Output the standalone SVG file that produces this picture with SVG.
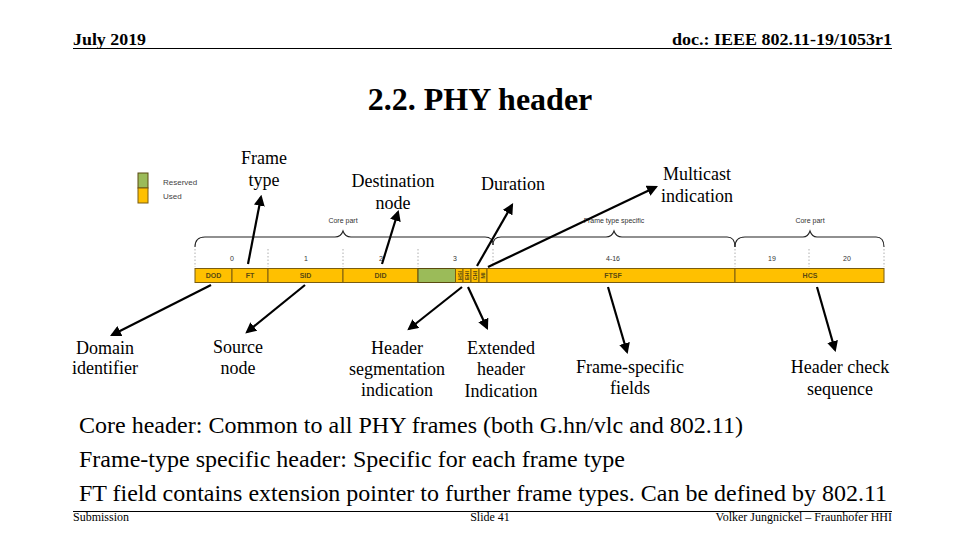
<svg xmlns="http://www.w3.org/2000/svg" width="960" height="540" viewBox="0 0 960 540">
<defs>
<style>
.hdr{font-family:"Liberation Serif",serif;font-weight:bold;font-size:16px;fill:#000}
.ft{font-family:"Liberation Serif",serif;font-size:12px;fill:#000}
.lbl{font-family:"Liberation Serif",serif;font-size:18px;fill:#000;text-anchor:middle}
.body{font-family:"Liberation Serif",serif;font-size:23px;fill:#000}
.tiny{font-family:"Liberation Sans",sans-serif;font-size:7px;fill:#333;text-anchor:middle}
.cell{font-family:"Liberation Sans",sans-serif;font-size:7px;font-weight:bold;fill:#5a4a10;text-anchor:middle}
.y{fill:#FFC000;stroke:#7a5c10;stroke-width:1}
.g{fill:#9BBB59;stroke:#5a4a10;stroke-width:1}
.dot{stroke:#999;stroke-width:0.8;stroke-dasharray:1.5,2}
.brace{fill:none;stroke:#222;stroke-width:1.1}
.arr{stroke:#000;stroke-width:2.2;fill:none;marker-end:url(#ah)}
</style>
<marker id="ah" viewBox="0 0 10 10" refX="8" refY="5" markerWidth="5" markerHeight="5" orient="auto" markerUnits="strokeWidth">
<path d="M0,0 L10,5 L0,10 Z" fill="#000"/>
</marker>
</defs>
<rect width="960" height="540" fill="#fff"/>

<g id="header">
<text class="hdr" x="73" y="45" textLength="73" lengthAdjust="spacingAndGlyphs">July 2019</text>
<text class="hdr" x="672" y="45" textLength="220" lengthAdjust="spacingAndGlyphs">doc.: IEEE 802.11-19/1053r1</text>
<line x1="73" y1="48.5" x2="892" y2="48.5" stroke="#000" stroke-width="1.2"/>
</g>

<text id="title" x="480" y="110" text-anchor="middle" style="font-family:'Liberation Serif',serif;font-size:32px;font-weight:bold">2.2. PHY header</text>

<g id="legend">
<rect x="138" y="173" width="10" height="15" class="g"/>
<rect x="138" y="188" width="10" height="15" class="y"/>
<text x="163" y="185" style="font-family:'Liberation Sans',sans-serif;font-size:8px;fill:#444">Reserved</text>
<text x="163" y="199" style="font-family:'Liberation Sans',sans-serif;font-size:8px;fill:#444">Used</text>
</g>

<g id="braces">
<path class="brace" d="M195,247 Q195,237 205,237 L335,237 Q341,237 343,231 Q345,237 351,237 L485,237 Q493,237 493,245"/>
<text class="tiny" x="343" y="223">Core part</text>
<path class="brace" d="M493,245 Q493,237 501,237 L606,237 Q612,237 614,231 Q616,237 622,237 L727,237 Q735,237 735,247"/>
<text class="tiny" x="614" y="223">Frame type specific</text>
<path class="brace" d="M735,247 Q735,237 745,237 L803,237 Q808,237 810,231 Q812,237 817,237 L876,237 Q884,237 884,247"/>
<text class="tiny" x="810" y="223">Core part</text>
</g>

<g id="bytegrid">
<line class="dot" x1="195" y1="249" x2="195" y2="267"/>
<line class="dot" x1="268" y1="249" x2="268" y2="267"/>
<line class="dot" x1="343" y1="249" x2="343" y2="267"/>
<line class="dot" x1="418" y1="249" x2="418" y2="267"/>
<line class="dot" x1="493" y1="249" x2="493" y2="267"/>
<line class="dot" x1="735" y1="249" x2="735" y2="267"/>
<line class="dot" x1="809" y1="249" x2="809" y2="267"/>
<line class="dot" x1="884" y1="249" x2="884" y2="267"/>
<text class="tiny" x="232" y="261">0</text>
<text class="tiny" x="306" y="261">1</text>
<text class="tiny" x="381" y="261">2</text>
<text class="tiny" x="455" y="261">3</text>
<text class="tiny" x="613" y="261">4-16</text>
<text class="tiny" x="772" y="261">19</text>
<text class="tiny" x="847" y="261">20</text>
</g>

<g id="bar">
<rect x="195" y="268.5" width="37" height="14" class="y"/>
<text class="cell" x="213.5" y="278">DOD</text>
<rect x="232" y="268.5" width="36" height="14" class="y"/>
<text class="cell" x="250" y="278">FT</text>
<rect x="268" y="268.5" width="75" height="14" class="y"/>
<text class="cell" x="305.5" y="278">SID</text>
<rect x="343" y="268.5" width="75" height="14" class="y"/>
<text class="cell" x="380.5" y="278">DID</text>
<rect x="418" y="268.5" width="37.5" height="14" class="g"/>
<rect x="455.5" y="268.5" width="7.5" height="14" class="y"/>
<text class="cell" transform="translate(461.5,275.5) rotate(-90)" style="font-size:5.5px">HSI</text>
<rect x="463" y="268.5" width="8" height="14" class="y"/>
<text class="cell" transform="translate(469.2,275.5) rotate(-90)" style="font-size:5.5px">EHI</text>
<rect x="471" y="268.5" width="8" height="14" class="y"/>
<text class="cell" transform="translate(477.2,275.5) rotate(-90)" style="font-size:5.5px">CHI</text>
<rect x="479" y="268.5" width="8" height="14" class="y"/>
<text class="cell" transform="translate(485.2,275.5) rotate(-90)" style="font-size:5.5px">MI</text>
<rect x="487" y="268.5" width="248" height="14" class="y"/>
<text class="cell" x="613" y="278">FTSF</text>
<rect x="735" y="268.5" width="149" height="14" class="y"/>
<text class="cell" x="810" y="278">HCS</text>
</g>

<g id="connectors">
<line class="arr" x1="248" y1="264" x2="261" y2="197"/>
<line class="arr" x1="382" y1="264" x2="398" y2="212"/>
<line class="arr" x1="477" y1="266" x2="512" y2="205"/>
<line class="arr" x1="488" y1="267" x2="656" y2="187"/>
<line class="arr" x1="211" y1="285" x2="112" y2="335"/>
<line class="arr" x1="305" y1="285" x2="247" y2="332"/>
<line class="arr" x1="462" y1="287" x2="409" y2="329"/>
<line class="arr" x1="468" y1="287" x2="487" y2="328"/>
<line class="arr" x1="608" y1="287" x2="627" y2="352"/>
<line class="arr" x1="817" y1="287" x2="835" y2="350"/>
</g>

<g id="n-frametype"><text class="lbl" x="264" y="164">Frame</text><text class="lbl" x="264" y="186">type</text></g>
<g id="n-dest"><text class="lbl" x="393" y="187">Destination</text><text class="lbl" x="393" y="209">node</text></g>
<g id="n-duration"><text class="lbl" x="513" y="190">Duration</text></g>
<g id="n-multicast"><text class="lbl" x="697" y="180">Multicast</text><text class="lbl" x="697" y="202">indication</text></g>
<g id="n-domain"><text class="lbl" x="105" y="354">Domain</text><text class="lbl" x="105" y="374">identifier</text></g>
<g id="n-source"><text class="lbl" x="238" y="353">Source</text><text class="lbl" x="238" y="374">node</text></g>
<g id="n-hsi"><text class="lbl" x="397" y="354">Header</text><text class="lbl" x="397" y="375">segmentation</text><text class="lbl" x="397" y="396">indication</text></g>
<g id="n-ehi"><text class="lbl" x="501" y="354">Extended</text><text class="lbl" x="501" y="375">header</text><text class="lbl" x="501" y="397">Indication</text></g>
<g id="n-ftsf"><text class="lbl" x="630" y="373">Frame-specific</text><text class="lbl" x="630" y="394">fields</text></g>
<g id="n-hcs"><text class="lbl" x="840" y="373">Header check</text><text class="lbl" x="840" y="395">sequence</text></g>

<g id="bodytext">
<text class="body" x="79" y="433" textLength="664" lengthAdjust="spacingAndGlyphs">Core header: Common to all PHY frames (both G.hn/vlc and 802.11)</text>
<text class="body" x="79" y="467" textLength="546" lengthAdjust="spacingAndGlyphs">Frame-type specific header: Specific for each frame type</text>
<text class="body" x="79" y="501" textLength="808" lengthAdjust="spacingAndGlyphs">FT field contains extension pointer to further frame types. Can be defined by 802.11</text>
</g>

<g id="footer">
<line x1="73" y1="511.5" x2="892" y2="511.5" stroke="#000" stroke-width="1.2"/>
<text class="ft" x="73" y="521">Submission</text>
<text class="ft" x="490" y="521" text-anchor="middle">Slide 41</text>
<text class="ft" x="892" y="521" text-anchor="end">Volker Jungnickel – Fraunhofer HHI</text>
</g>
</svg>
